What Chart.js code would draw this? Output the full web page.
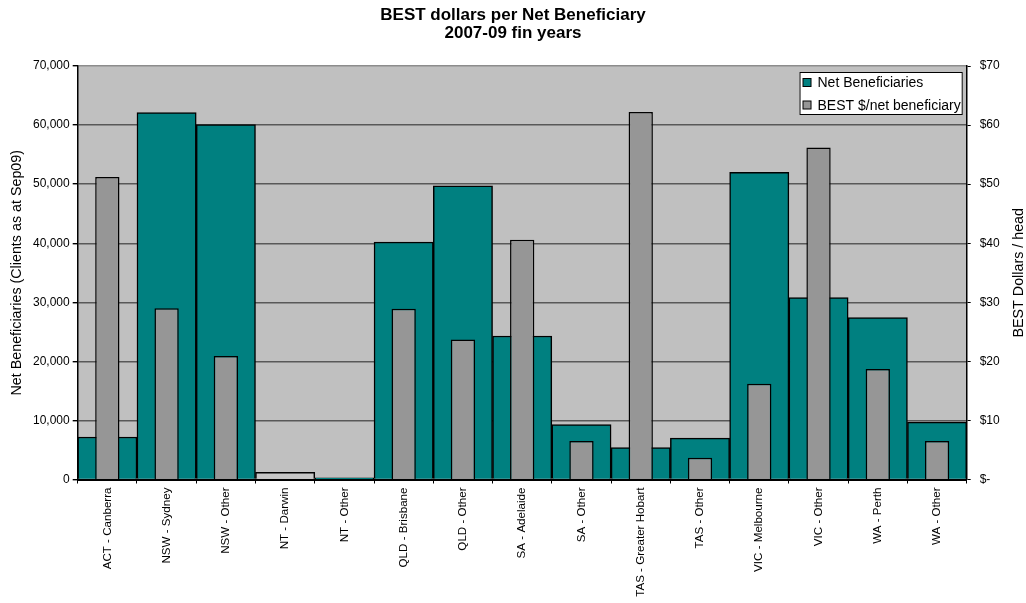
<!DOCTYPE html>
<html>
<head>
<meta charset="utf-8">
<title>BEST dollars per Net Beneficiary</title>
<script src="https://cdn.jsdelivr.net/npm/chart.js@4.4.1/dist/chart.umd.min.js"></script>
<style>
  html, body { margin: 0; padding: 0; background: #fff; }
  .chart-container { width: 1026px; height: 603px; }
</style>
</head>
<body>
<div class="chart-container"><canvas id="bestChart" width="1026" height="603"></canvas></div>
<script>
const regions = [
  'ACT - Canberra', 'NSW - Sydney', 'NSW - Other', 'NT - Darwin', 'NT - Other',
  'QLD - Brisbane', 'QLD - Other', 'SA - Adelaide', 'SA - Other', 'TAS - Greater Hobart',
  'TAS - Other', 'VIC - Melbourne', 'VIC - Other', 'WA - Perth', 'WA - Other',
];
const netBeneficiaries = [7200, 62100, 60100, 1200, 300, 40200, 49700, 24300, 9300, 5400, 7000, 52000, 30800, 27400, 9700];
const bestPerHead = [51.2, 29.0, 20.9, null, null, 28.9, 23.7, 40.6, 6.5, 62.2, 3.7, 16.2, 56.2, 18.7, 6.5];

const leftTicks = { min: 0, max: 70000, step: 10000 };
const rightTicks = { min: 0, max: 70, step: 10 };

const FONT = "'Liberation Sans', Arial, sans-serif";
Chart.defaults.font.family = FONT;
Chart.defaults.color = '#000';

// grey plot area behind the grid
const plotBackground = {
  id: 'plotBackground',
  beforeDraw(chart) {
    const { ctx, chartArea: a } = chart;
    ctx.save();
    ctx.fillStyle = '#c0c0c0';
    ctx.fillRect(a.left, a.top, a.right - a.left, a.bottom - a.top);
    ctx.restore();
  },
};

// secondary axis title, reading bottom to top like the primary one
const rightAxisTitle = {
  id: 'rightAxisTitle',
  afterDraw(chart) {
    const { ctx, chartArea: a } = chart;
    ctx.save();
    ctx.translate(1019, (a.top + a.bottom) / 2);
    ctx.rotate(-Math.PI / 2);
    ctx.font = `14.3px ${FONT}`;
    ctx.fillStyle = '#000';
    ctx.textAlign = 'center';
    ctx.textBaseline = 'middle';
    ctx.fillText('BEST Dollars / head', 0, 0);
    ctx.restore();
  },
};

// boxed legend inside the top right corner of the plot
const boxLegend = {
  id: 'boxLegend',
  afterDatasetsDraw(chart) {
    const { ctx, chartArea: a } = chart;
    const sets = chart.data.datasets;
    ctx.save();
    ctx.font = `14px ${FONT}`;
    const textW = Math.max(...sets.map(d => ctx.measureText(d.label).width));
    const w = textW + 20;
    const h = 43;
    const x = a.right - 4 - w;
    const y = a.top + 6;
    ctx.fillStyle = '#fff';
    ctx.fillRect(x, y, w, h);
    ctx.strokeStyle = '#000';
    ctx.lineWidth = 1;
    ctx.strokeRect(x + 0.5, y + 0.5, w - 1, h - 1);
    sets.forEach((d, i) => {
      const cy = y + 10.5 + i * 22.5;
      ctx.fillStyle = d.legendColor;
      ctx.fillRect(x + 3.5, cy - 4, 8, 8);
      ctx.strokeRect(x + 3.5, cy - 4, 8, 8);
      ctx.fillStyle = '#000';
      ctx.textBaseline = 'middle';
      ctx.fillText(d.label, x + 18, cy + 1);
    });
    ctx.restore();
  },
};

const chartConfig = {
  type: 'bar',
  data: {
    labels: regions,
    datasets: [
      {
        label: 'Net Beneficiaries',
        data: netBeneficiaries,
        yAxisID: 'y',
        legendColor: '#008080',
        backgroundColor: ctx => (regions[ctx.dataIndex] === 'NT - Darwin' ? '#c6c6c6' : '#008080'),
        borderColor: '#000',
        borderWidth: 1.5,
        grouped: false,
        barPercentage: 1,
        categoryPercentage: 1,
        order: 1,
      },
      {
        label: 'BEST $/net beneficiary',
        data: bestPerHead,
        yAxisID: 'y1',
        legendColor: '#969696',
        backgroundColor: '#969696',
        borderColor: '#000',
        borderWidth: 1.5,
        grouped: false,
        barPercentage: 0.41,
        categoryPercentage: 1,
        order: 0,
      },
    ],
  },
  options: {
    responsive: false,
    animation: false,
    devicePixelRatio: 1,
    layout: { padding: 0 },
    plugins: {
      legend: { display: false },
      tooltip: { enabled: false },
      title: {
        display: true,
        text: ['BEST dollars per Net Beneficiary', '2007-09 fin years'],
        color: '#000',
        font: { size: 17, weight: 'bold', lineHeight: 1.1 },
        padding: { top: 5.5, bottom: 23.1 },
      },
    },
    scales: {
      x: {
        offset: true,
        grid: { offset: true, drawOnChartArea: false, color: '#000', tickLength: 4 },
        border: { color: '#000', width: 2 },
        ticks: {
          autoSkip: false,
          maxRotation: 90,
          minRotation: 90,
          padding: 4,
          color: '#000',
          font: { size: 11.6 },
        },
        afterFit: scale => { scale.height = 123.5; },
      },
      y: {
        position: 'left',
        min: leftTicks.min,
        max: leftTicks.max,
        ticks: {
          stepSize: leftTicks.step,
          padding: 3,
          color: '#000',
          font: { size: 12 },
          callback: v => v.toLocaleString('en-US'),
        },
        grid: {
          color: ctx => (ctx.tick && ctx.tick.value === leftTicks.max ? '#8c8c8c' : '#585858'),
          lineWidth: 1.4,
          tickLength: 5,
          tickColor: '#000',
        },
        border: { color: '#000', width: 1.5 },
        title: {
          display: true,
          text: 'Net Beneficiaries (Clients as at Sep09)',
          color: '#000',
          font: { size: 14.3 },
          padding: { top: 8.4, bottom: 0 },
        },
        afterFit: scale => { scale.width = 77.7; },
      },
      y1: {
        position: 'right',
        min: rightTicks.min,
        max: rightTicks.max,
        ticks: {
          stepSize: rightTicks.step,
          padding: 9,
          color: '#000',
          font: { size: 12 },
          callback: v => (v === 0 ? '$-' : '$' + v),
        },
        grid: { drawOnChartArea: false, tickLength: 4, color: '#000' },
        border: { color: '#000', width: 1.5 },
        afterFit: scale => { scale.width = 59.3; },
      },
    },
  },
  plugins: [plotBackground, boxLegend, rightAxisTitle],
};

const bestChart = new Chart(document.getElementById('bestChart'), chartConfig);
</script>
</body>
</html>
